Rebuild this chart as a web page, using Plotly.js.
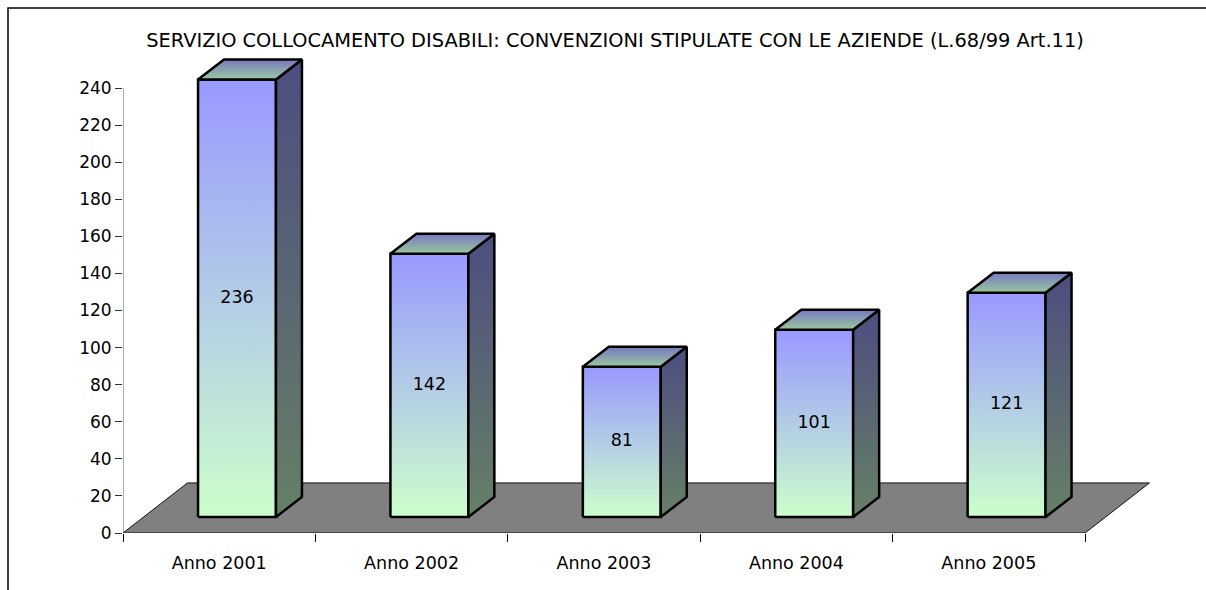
<!DOCTYPE html>
<html>
<head>
<meta charset="utf-8">
<script src="https://cdn.plot.ly/plotly-3.0.1.min.js"></script>
<style>
  html, body { margin: 0; padding: 0; background: #fff; }
  #chart { width: 1206px; height: 590px; }
</style>
</head>
<body>
<div id="chart"></div>
<script>
const categories = ['Anno 2001', 'Anno 2002', 'Anno 2003', 'Anno 2004', 'Anno 2005'];
const values = [236, 142, 81, 101, 121];
const yTicks = [0, 20, 40, 60, 80, 100, 120, 140, 160, 180, 200, 220, 240];

const titleText = 'SERVIZIO COLLOCAMENTO DISABILI: CONVENZIONI STIPULATE CON LE AZIENDE (L.68/99 Art.11)';

// 3d look, in axis units
const BAR_W = 0.405;
const BAR_SHIFT = 0.0925;
const BASE = 8.63;
const DEPTH_X = 0.1351;
const DEPTH_Y = 10.79;
const FLOOR_X = 0.335;
const FLOOR_Y = 27.0;

const FONT = 'DejaVu Sans, sans-serif';
const W = 1206, H = 590;
const M = { l: 123, r: 25, t: 55, b: 57 };

const frontScale = [[0, '#ccffcc'], [1, '#9999ff']];
const sideScale = [[0, '#668066'], [1, '#4d4d80']];
const topScale = [[0, '#99c8a0'], [1, '#7878c0']];

const traces = [];

// floor
const xl = -0.5, xr = categories.length - 0.5;
traces.push({
  x: [xl, xr, xr + FLOOR_X, xl + FLOOR_X, xl],
  y: [0, 0, FLOOR_Y, FLOOR_Y, 0],
  mode: 'lines', fill: 'toself', fillcolor: '#808080',
  line: { color: '#111', width: 1 },
  hoverinfo: 'skip', showlegend: false
});

function face(xs, ys, scale) {
  traces.push({
    x: xs, y: ys, mode: 'lines', fill: 'toself',
    fillgradient: { type: 'vertical', colorscale: scale },
    line: { color: '#000', width: 2.5 },
    hoverinfo: 'skip', showlegend: false
  });
}

values.forEach((v, i) => {
  const x0 = i + BAR_SHIFT - BAR_W / 2, x1 = x0 + BAR_W;
  const y0 = BASE, y1 = BASE + v;
  face([x0, x1, x1, x0, x0], [y0, y0, y1, y1, y0], frontScale);
  face([x1, x1 + DEPTH_X, x1 + DEPTH_X, x1, x1],
       [y0, y0 + DEPTH_Y, y1 + DEPTH_Y, y1, y0], sideScale);
  face([x0, x1, x1 + DEPTH_X, x0 + DEPTH_X, x0],
       [y1, y1, y1 + DEPTH_Y, y1 + DEPTH_Y, y1], topScale);
});

traces.push({
  x: values.map((v, i) => i + BAR_SHIFT),
  y: values.map(v => BASE + v / 2),
  text: values.map(String),
  mode: 'text',
  textfont: { family: FONT, size: 17.5, color: '#000' },
  hoverinfo: 'skip', showlegend: false
});

const plotW = W - M.l - M.r, plotH = H - M.t - M.b;
const pxPerX = 192.4, pxPerY = 445 / 240;

const layout = {
  width: W, height: H, margin: M,
  paper_bgcolor: '#fff', plot_bgcolor: 'rgba(0,0,0,0)',
  font: { family: FONT, size: 17, color: '#000' },
  title: {
    text: titleText,
    font: { family: FONT, size: 19.4, color: '#000' },
    x: 615 / W, xref: 'container', xanchor: 'center',
    y: 1 - 40 / H, yref: 'container', yanchor: 'middle'
  },
  xaxis: {
    range: [xl, xl + plotW / pxPerX],
    tickmode: 'array',
    tickvals: categories.map((c, i) => i),
    ticktext: categories,
    tickfont: { family: FONT, size: 17.5, color: '#000' },
    ticks: 'outside', ticklen: 14, tickcolor: 'rgba(0,0,0,0)',
    minor: { tickmode: 'linear', tick0: xl, dtick: 1, ticks: 'outside', ticklen: 8, tickcolor: '#000', showgrid: false },
    showline: false, showgrid: false, zeroline: false, fixedrange: true
  },
  yaxis: {
    range: [0, plotH / pxPerY],
    tickmode: 'array', tickvals: yTicks,
    tickfont: { family: FONT, size: 17, color: '#000' },
    ticks: 'outside', ticklen: 7, tickcolor: '#333',
    showline: false, showgrid: false, zeroline: false, fixedrange: true
  },
  shapes: [
    { type: 'line', xref: 'x', yref: 'y', x0: xl, x1: xl, y0: 0, y1: yTicks[yTicks.length - 1],
      line: { color: '#555', width: 1 } },
    { type: 'rect', xref: 'paper', yref: 'paper',
      x0: (8 - M.l) / plotW, x1: 1.2, y0: -0.3, y1: (H - M.b - 8) / plotH,
      line: { color: '#000', width: 1.5 }, fillcolor: 'rgba(0,0,0,0)' }
  ]
};

Plotly.newPlot('chart', traces, layout, { displayModeBar: false, staticPlot: true });
</script>
</body>
</html>
